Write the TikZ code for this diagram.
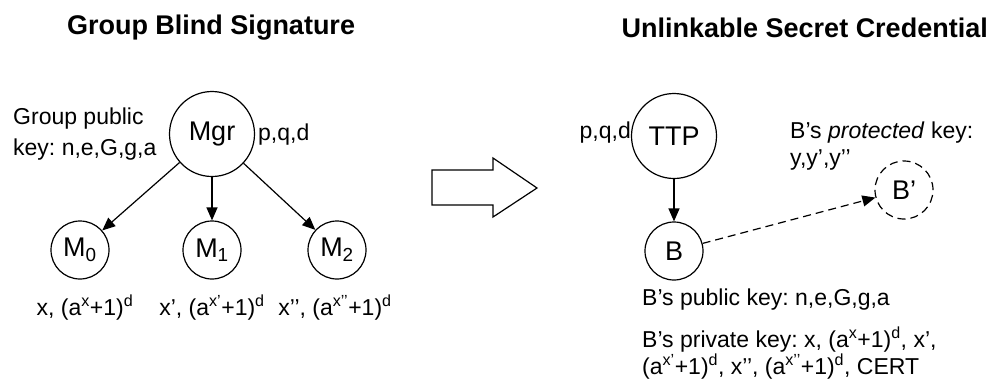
\documentclass[tikz,border=0pt]{standalone}
\usepackage{fontspec}
\setmainfont{Liberation Sans}
\usetikzlibrary{arrows.meta}
\frenchspacing
\begin{document}
\begin{tikzpicture}[x=1pt,y=-1pt,
  bignode/.style={circle,draw,line width=1.2pt,minimum size=85pt,inner sep=0pt,font=\fontsize{27}{30}\selectfont},
  smallnode/.style={circle,draw,line width=1.2pt,minimum size=58pt,inner sep=0pt,font=\fontsize{27}{30}\selectfont},
  lbl/.style={inner sep=0pt,font=\fontsize{23}{27}\selectfont},
  ttl/.style={inner sep=0pt,font=\bfseries\fontsize{27}{31}\selectfont},
  arr/.style={line width=1.2pt,-{Triangle[length=13pt,width=11pt]}},
  dsh/.style={dash pattern=on 8pt off 5pt},
]
\useasboundingbox (0,0) rectangle (990,378);
% titles
\node[ttl] (t1) at (211,28) {Group Blind Signature};
\node[ttl,anchor=east] (t2) at (988,28) {Unlinkable Secret Credential};
% left graph
\node[bignode] (mgr) at (212,134) {Mgr};
\node[smallnode] (m0) at (80,250) {M\textsubscript{0}};
\node[smallnode] (m1) at (212,250) {M\textsubscript{1}};
\node[smallnode] (m2) at (337,250) {M\textsubscript{2}};
\draw[arr] (mgr) -- (m0);
\draw[arr] (mgr) -- (m1);
\draw[arr] (mgr) -- (m2);
\node[lbl,anchor=west,align=left,font=\fontsize{23}{31}\selectfont] (gpk) at (13,134) {Group public\\key: n,e,G,g,a};
\node[lbl,anchor=west] (pqd1) at (258,135) {p,q,d};
\node[lbl] (l0) at (85,308) {x, (a\textsuperscript{x}+1)\textsuperscript{d}};
\node[lbl] (l1) at (212,308) {x’, (a\textsuperscript{x’}+1)\textsuperscript{d}};
\node[lbl] (l2) at (335,308) {x’’, (a\textsuperscript{x’’}+1)\textsuperscript{d}};
% hollow arrow
\draw[line width=1.2pt,line join=miter] (432,170) -- (493,170) -- (493,158) -- (537,188) -- (493,217) -- (493,205) -- (432,205) -- cycle;
% right graph
\node[bignode] (ttp) at (674,136) {TTP};
\node[smallnode] (b) at (674,251) {B};
\node[smallnode,dsh] (bp) at (904,190) {B’};
\draw[arr] (ttp) -- (b);
\draw[arr,dsh] (b) -- (bp);
\node[lbl,anchor=east] (pqd2) at (631,133) {p,q,d};
\node[lbl,anchor=west,align=left] (prot) at (790,146) {B’s \textit{protected} key:\\y,y’,y’’};
\node[lbl,anchor=west] (pub) at (642,300) {B’s public key: n,e,G,g,a};
\node[lbl,anchor=west,align=left,font=\fontsize{23}{25}\selectfont] (priv) at (642,353) {B’s private key: x, (a\textsuperscript{x}+1)\textsuperscript{d}, x’,\\(a\textsuperscript{x’}+1)\textsuperscript{d}, x’’, (a\textsuperscript{x’’}+1)\textsuperscript{d}, CERT};
\end{tikzpicture}
\end{document}
